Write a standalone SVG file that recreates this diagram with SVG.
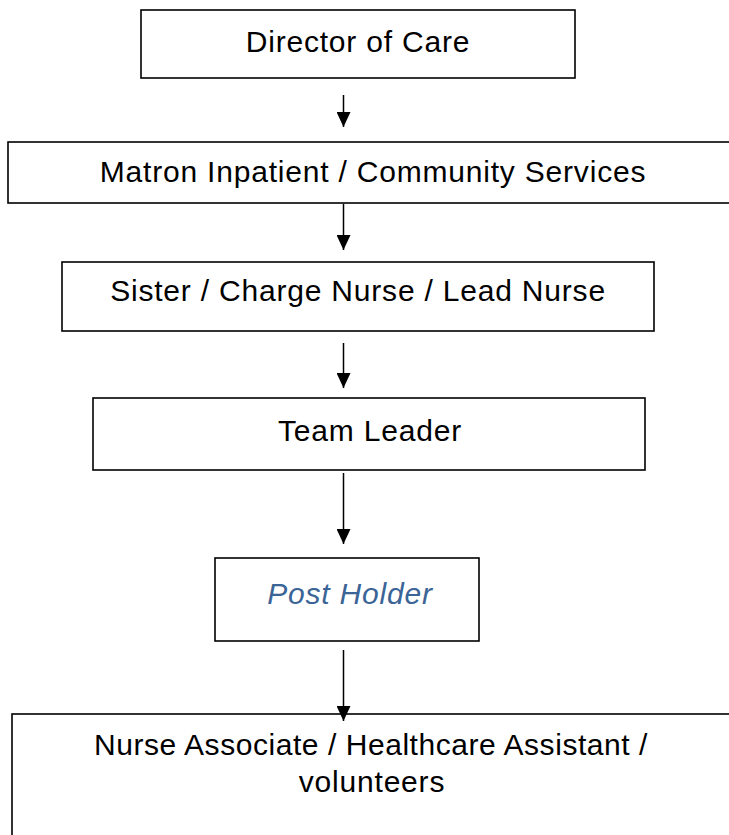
<svg xmlns="http://www.w3.org/2000/svg" width="729" height="835" viewBox="0 0 729 835">
<defs>
<style>
.box{fill:#fff;stroke:#000;stroke-width:1.6}
.t{font-family:"Liberation Sans",Arial,sans-serif;font-size:30px;letter-spacing:0.8px;fill:#000;text-anchor:middle}
.ph{fill:#3b6497;font-style:italic}
.c{stroke:#000;stroke-width:1.5;fill:none}
</style>
<marker id="a" viewBox="0 0 15 14" refX="15" refY="7" markerWidth="15" markerHeight="14" markerUnits="userSpaceOnUse" orient="auto">
<path d="M0,0 L15,7 L0,14 z" fill="#000"/>
</marker>
</defs>
<rect width="729" height="835" fill="#fff"/>
<g id="connectors">
<line class="c" x1="343.5" y1="95" x2="343.5" y2="127" marker-end="url(#a)"/>
<line class="c" x1="343.5" y1="204" x2="343.5" y2="250" marker-end="url(#a)"/>
<line class="c" x1="343.5" y1="343" x2="343.5" y2="388" marker-end="url(#a)"/>
<line class="c" x1="343.5" y1="473" x2="343.5" y2="544" marker-end="url(#a)"/>
</g>
<g id="director">
<rect class="box" x="141" y="10" width="434" height="68"/>
<text class="t" x="358" y="52">Director of Care</text>
</g>
<g id="matron">
<rect class="box" x="8" y="142" width="730" height="61"/>
<text class="t" x="373" y="182">Matron Inpatient / Community Services</text>
</g>
<g id="sister">
<rect class="box" x="62" y="262" width="592" height="69"/>
<text class="t" x="358" y="301">Sister / Charge Nurse / Lead Nurse</text>
</g>
<g id="teamleader">
<rect class="box" x="93" y="398" width="552" height="72"/>
<text class="t" x="370" y="441">Team Leader</text>
</g>
<g id="postholder">
<rect class="box" x="215" y="558" width="264" height="83"/>
<text class="t ph" x="350" y="604">Post Holder</text>
</g>
<g id="assistants">
<rect class="box" x="12" y="714" width="730" height="130"/>
<text class="t" x="371" y="755" style="letter-spacing:0.55px">Nurse Associate / Healthcare Assistant /</text>
<text class="t" x="372" y="792">volunteers</text>
</g>
<g id="connector-last">
<line class="c" x1="343.5" y1="650" x2="343.5" y2="721" marker-end="url(#a)"/>
</g>
</svg>
